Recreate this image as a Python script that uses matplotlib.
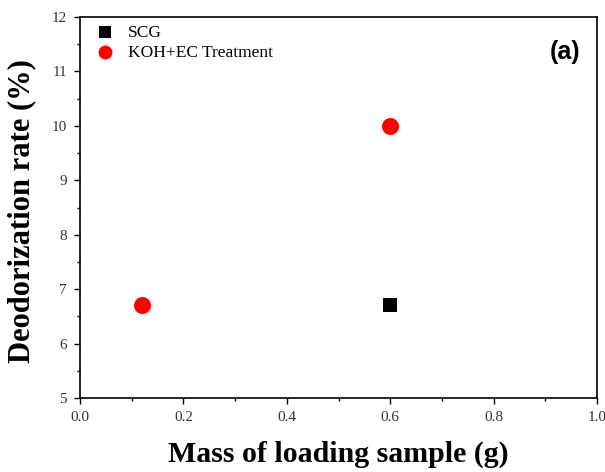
import matplotlib
matplotlib.use("Agg")
import matplotlib.pyplot as plt
from matplotlib.ticker import MultipleLocator, FuncFormatter

scg_x = [0.6]
scg_y = [6.7]
koh_x = [0.12, 0.6]
koh_y = [6.7, 10.0]

fig = plt.figure(figsize=(6.05, 4.72), dpi=100)
ax = fig.add_axes([80/605, 1-398/472, (597-80)/605, (398-17)/472])

ax.scatter(scg_x, scg_y, marker='s', s=115, color='black', label='SCG', zorder=3, linewidths=0)
ax.scatter(koh_x, koh_y, marker='o', s=150, color='red', label='KOH+EC Treatment', zorder=3, linewidths=0)

ax.set_xlim(0, 1.0)
ax.set_ylim(5, 12)
ax.xaxis.set_major_locator(MultipleLocator(0.2))
ax.xaxis.set_minor_locator(MultipleLocator(0.1))
ax.yaxis.set_major_locator(MultipleLocator(1))
ax.yaxis.set_minor_locator(MultipleLocator(0.5))
ax.xaxis.set_major_formatter(FuncFormatter(lambda v, p: f"{v:.1f}"))
ax.yaxis.set_major_formatter(FuncFormatter(lambda v, p: f"{int(round(v))}"))
ax.tick_params(which='major', direction='out', length=4.5, width=1, labelsize=11, pad=5)
ax.tick_params(which='minor', direction='out', length=2.5, width=1)
for lab in ax.get_xticklabels() + ax.get_yticklabels():
    lab.set_family('Liberation Serif')
    lab.set_color('#333333')
for s in ax.spines.values():
    s.set_linewidth(1.2)

ax.set_xlabel('Mass of loading sample (g)', fontsize=21.5, fontweight='bold',
              family='Liberation Serif', labelpad=12)
ax.set_ylabel('Deodorization rate (%)', fontsize=22, fontweight='bold',
              family='Liberation Serif')
ax.yaxis.set_label_coords(-0.084, 0.49)

leg = ax.legend(loc='upper left', bbox_to_anchor=(0.0, 1.0), frameon=False,
                prop={'family': 'Liberation Serif', 'size': 12.5},
                handletextpad=0.3, borderaxespad=0.05, labelspacing=0.2, scatterpoints=1,
                markerscale=0.82)

ax.text(0.967, 0.908, '(a)', transform=ax.transAxes, ha='right', va='center',
        fontsize=18, fontweight='bold', family='Liberation Sans')

fig.savefig('out.png', dpi=100)
